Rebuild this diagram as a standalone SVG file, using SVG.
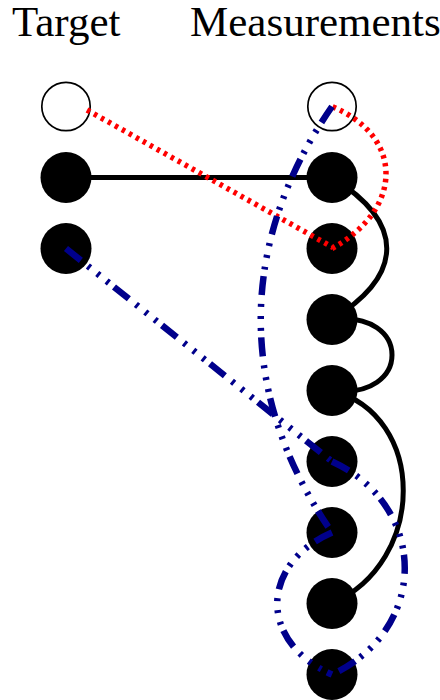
<svg xmlns="http://www.w3.org/2000/svg" width="440" height="700" viewBox="0 0 440 700">
<style>
.lbl{font-family:"Liberation Serif","Times New Roman",serif;font-size:43px;fill:#000}
.open{fill:#fff;stroke:#000;stroke-width:1.7}
.full{fill:#000}
.blk{fill:none;stroke:#000;stroke-width:5}
.red{fill:none;stroke:#ff0000;stroke-width:5.5;stroke-dasharray:3.5 4.5}
.blu{fill:none;stroke:#00008b;stroke-width:6.5;stroke-dasharray:19 9 3 9 3 9 3 6.5}
</style>
<rect width="440" height="700" fill="#fff"/>
<g id="labels">
<text class="lbl" x="12" y="36">Target</text>
<text class="lbl" x="190" y="36">Measurements</text>
</g>
<g id="t1"><circle class="open" cx="66" cy="106.5" r="24.2"/></g>
<g id="t2"><circle class="full" cx="66" cy="177.5" r="25.5"/></g>
<g id="t3"><circle class="full" cx="66" cy="248.5" r="25.5"/></g>
<g id="m1"><circle class="open" cx="332" cy="106.5" r="24.2"/></g>
<g id="m2"><circle class="full" cx="332" cy="177.5" r="25.5"/></g>
<g id="m3"><circle class="full" cx="332" cy="248.5" r="25.5"/></g>
<g id="m4"><circle class="full" cx="332" cy="319.5" r="25.5"/></g>
<g id="m5"><circle class="full" cx="332" cy="390.5" r="25.5"/></g>
<g id="m6"><circle class="full" cx="332" cy="461.5" r="25.5"/></g>
<g id="m7"><circle class="full" cx="332" cy="532.5" r="25.5"/></g>
<g id="m8"><circle class="full" cx="332" cy="603.5" r="25.5"/></g>
<g id="m9"><circle class="full" cx="332" cy="674.5" r="25.5"/></g>
<g id="connectors">
<path class="blk" d="M66,177.5 L332,177.5"/>
<path class="blk" d="M332,177.5 C405,222.5 405,274.5 332,319.5"/>
<path class="blk" d="M332,319.5 C412,309.5 412,400.5 332,390.5"/>
<path class="blk" d="M332,390.5 C427,415.5 427,561.5 332,603.5"/>
<path class="red" d="M87,110 L333,247.5"/>
<path class="red" d="M332,248.5 C404,208.5 404,136.5 332,106.5"/>
<path class="blu" d="M66,248.5 L332,461.5"/>
<path class="blu" d="M332,461.5 C429,506.5 429,629.5 332,674.5"/>
<path class="blu" d="M332,106.5 C237,243.5 237,395.5 332,532.5"/>
<path class="blu" d="M332,532.5 C259,564.5 259,642.5 332,674.5"/>
</g>
</svg>
